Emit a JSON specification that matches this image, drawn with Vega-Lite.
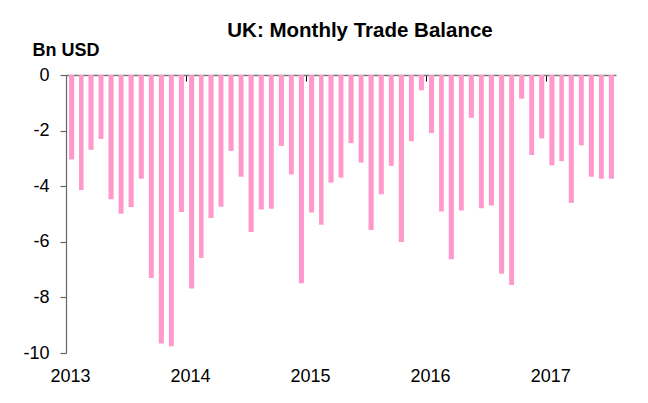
{
  "$schema": "https://vega.github.io/schema/vega-lite/v6.json",
  "width": 550,
  "height": 278,
  "autosize": {"type": "none"},
  "padding": {"left": 66, "top": 75, "right": 32, "bottom": 50},
  "background": "#ffffff",
  "title": {
    "text": "UK: Monthly Trade Balance",
    "font": "Liberation Sans",
    "fontSize": 20.5,
    "fontWeight": "bold",
    "color": "#000000",
    "anchor": "middle",
    "dx": 19,
    "dy": 22,
    "baseline": "alphabetic",
    "offset": 6
  },
  "data": {
    "values": [
      {"date": "2013-01-01", "balance": -3.04},
      {"date": "2013-02-01", "balance": -4.14},
      {"date": "2013-03-01", "balance": -2.69},
      {"date": "2013-04-01", "balance": -2.30},
      {"date": "2013-05-01", "balance": -4.47},
      {"date": "2013-06-01", "balance": -4.99},
      {"date": "2013-07-01", "balance": -4.75},
      {"date": "2013-08-01", "balance": -3.73},
      {"date": "2013-09-01", "balance": -7.30},
      {"date": "2013-10-01", "balance": -9.66},
      {"date": "2013-11-01", "balance": -9.76},
      {"date": "2013-12-01", "balance": -4.93},
      {"date": "2014-01-01", "balance": -7.68},
      {"date": "2014-02-01", "balance": -6.58},
      {"date": "2014-03-01", "balance": -5.14},
      {"date": "2014-04-01", "balance": -4.74},
      {"date": "2014-05-01", "balance": -2.73},
      {"date": "2014-06-01", "balance": -3.66},
      {"date": "2014-07-01", "balance": -5.65},
      {"date": "2014-08-01", "balance": -4.84},
      {"date": "2014-09-01", "balance": -4.81},
      {"date": "2014-10-01", "balance": -2.55},
      {"date": "2014-11-01", "balance": -3.58},
      {"date": "2014-12-01", "balance": -7.49},
      {"date": "2015-01-01", "balance": -4.95},
      {"date": "2015-02-01", "balance": -5.39},
      {"date": "2015-03-01", "balance": -3.87},
      {"date": "2015-04-01", "balance": -3.69},
      {"date": "2015-05-01", "balance": -2.45},
      {"date": "2015-06-01", "balance": -3.15},
      {"date": "2015-07-01", "balance": -5.58},
      {"date": "2015-08-01", "balance": -4.29},
      {"date": "2015-09-01", "balance": -3.27},
      {"date": "2015-10-01", "balance": -6.01},
      {"date": "2015-11-01", "balance": -2.38},
      {"date": "2015-12-01", "balance": -0.55},
      {"date": "2016-01-01", "balance": -2.09},
      {"date": "2016-02-01", "balance": -4.91},
      {"date": "2016-03-01", "balance": -6.63},
      {"date": "2016-04-01", "balance": -4.87},
      {"date": "2016-05-01", "balance": -1.54},
      {"date": "2016-06-01", "balance": -4.79},
      {"date": "2016-07-01", "balance": -4.69},
      {"date": "2016-08-01", "balance": -7.15},
      {"date": "2016-09-01", "balance": -7.55},
      {"date": "2016-10-01", "balance": -0.85},
      {"date": "2016-11-01", "balance": -2.88},
      {"date": "2016-12-01", "balance": -2.28},
      {"date": "2017-01-01", "balance": -3.25},
      {"date": "2017-02-01", "balance": -3.10},
      {"date": "2017-03-01", "balance": -4.60},
      {"date": "2017-04-01", "balance": -2.53},
      {"date": "2017-05-01", "balance": -3.66},
      {"date": "2017-06-01", "balance": -3.73},
      {"date": "2017-07-01", "balance": -3.73}
    ]
  },
  "layer": [
    {
      "mark": {"type": "bar", "color": "#ff99cc", "width": {"band": 0.6}},
      "encoding": {
        "x": {
          "field": "date",
          "timeUnit": "utcyearmonth",
          "type": "temporal",
          "scale": {
            "domain": [
              {"year": 2013, "month": 1, "date": 1, "utc": true},
              {"year": 2017, "month": 8, "date": 1, "utc": true}
            ]
          },
          "axis": {
            "orient": "bottom",
            "domain": false,
            "ticks": false,
            "grid": false,
            "format": "%Y",
            "tickCount": {"interval": "year", "step": 1},
            "labelFlush": false,
            "labelOverlap": false,
            "labelOffset": 4,
            "labelPadding": 14,
            "labelFont": "Liberation Sans",
            "labelFontSize": 18,
            "labelColor": "#000000",
            "title": null
          }
        },
        "y": {
          "field": "balance",
          "type": "quantitative",
          "scale": {"domain": [-10, 0], "nice": false, "zero": false},
          "axis": {
            "values": [-10, -8, -6, -4, -2, 0],
            "labelExpr": "'' + datum.value",
            "grid": false,
            "domain": true,
            "domainColor": "#666666",
            "domainWidth": 1.2,
            "ticks": true,
            "tickColor": "#666666",
            "tickWidth": 1.2,
            "tickSize": 6,
            "labelPadding": 11,
            "labelFont": "Liberation Sans",
            "labelFontSize": 18,
            "labelColor": "#000000",
            "title": "Bn USD",
            "titleAngle": 0,
            "titleFont": "Liberation Sans",
            "titleFontSize": 18,
            "titleFontWeight": "bold",
            "titleColor": "#000000",
            "titleAlign": "left",
            "titleBaseline": "alphabetic",
            "titleX": -34,
            "titleY": -20
          }
        }
      }
    },
    {
      "mark": {"type": "tick", "opacity": 0},
      "encoding": {
        "x": {
          "field": "date",
          "timeUnit": "utcyearmonth",
          "type": "temporal",
          "axis": {
            "orient": "top",
            "labels": false,
            "domain": true,
            "domainColor": "#777777",
            "domainWidth": 1.5,
            "ticks": true,
            "tickColor": "#000000",
            "tickWidth": 1,
            "tickSize": -6,
            "grid": false,
            "tickCount": {"interval": "year", "step": 1},
            "title": null
          }
        },
        "y": {"field": "balance", "type": "quantitative"}
      }
    }
  ],
  "resolve": {"axis": {"x": "independent"}},
  "config": {"view": {"stroke": null}}
}
